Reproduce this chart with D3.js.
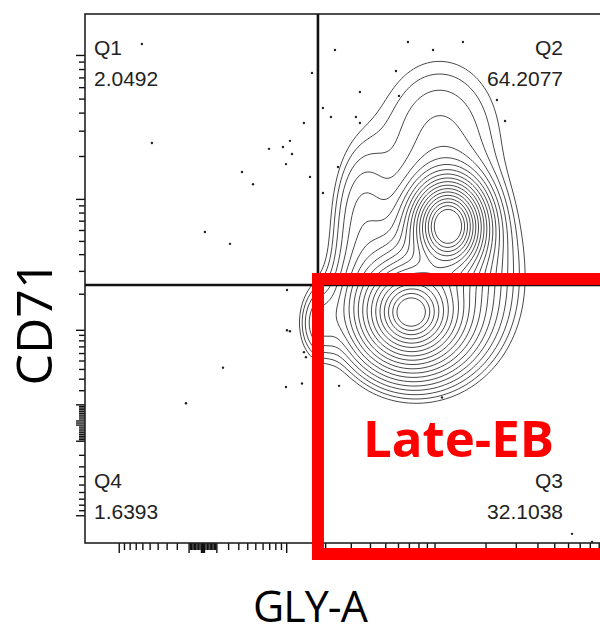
<!DOCTYPE html>
<html>
<head>
<meta charset="utf-8">
<script src="https://cdn.jsdelivr.net/npm/d3@7"></script>
<style>
  body { margin: 0; background: #fff; }
  text { font-family: "Liberation Sans", Arial, sans-serif; }
</style>
</head>
<body>
<svg id="chart" width="600" height="635"></svg>
<script>
// quadrant gate (fluorescence units) and the % of events per quadrant
const quadX = 1760
const quadY = 236
const quadNames = ['Q1', 'Q2', 'Q3', 'Q4']
const quadPct = [2.0492, 64.2077, 32.1038, 1.6393]

// populations: centre (GLY-A, CD71), spread in decades,
// relative weight and falloff exponent (1 = sharp core, 2 = smooth halo)
const clusterX = [11950, 7160, 10620, 3420, 12600, 1760]
const clusterY = [646, 143, 3160, 775, 307, 113]
const clusterSdX = [0.101, 0.122, 0.43, 0.196, 0.4, 0.145]
const clusterSdY = [0.151, 0.166, 0.6, 0.5, 0.64, 0.31]
const clusterW = [1.0, 1.0, 0.022, 0.022, 0.03, 0.02]
const clusterPow = [1.3, 1, 2, 2, 2, 2]

// single outlier events
const dotsX = [-614, -477, 1590, 1380, 1065, 928, 689, 1107, 986, 334, 464, 1537, 13, 213,
  2325, 6860, 9730, 14640, 5790, 3420, 6040, 1913, 2180, 3220, 3420, 25800, 2440, 1913,
  1006, 1006, 1380, 1430, 150, 986, 1333, -125, 1065, 2480, 11000, 62850, 81850, 23150]
const dotsY = [12000, 2480, 7580, 3420, 2570, 2330, 2260, 2080, 1770, 1560, 1280, 1440, 585, 480,
  10910, 12390, 10910, 12390, 7820, 5600, 5260, 4340, 3760, 3760, 3420, 3530, 1690, 1110,
  216, 100, 62, 55, 42, 23, 26, 11, 98, 24, 15, -143, -167, 4930]

const xDomain = [-1850, 154000]
const yDomain = [-170, 19290]

const gateLabel = 'Late-EB'
const xTitle = 'GLY-A'
const yTitle = 'CD71'

const pLeft = 85, pTop = 14, pRight = 640, pBottom = 543

const svg = d3.select('#chart')

const x = d3.scaleSymlog().constant(500).domain(xDomain).range([pLeft, pRight])
const y = d3.scaleSymlog().constant(30).domain(yDomain).range([pBottom, pTop])

svg.append('defs').append('clipPath').attr('id', 'plot')
  .append('rect').attr('x', pLeft).attr('y', pTop)
  .attr('width', pRight - pLeft).attr('height', pBottom - pTop)

// log-style ticks: 1..9 x 10^k on both sides of zero
function symTicks(dom) {
  let out = [{ v: 0, major: true }]
  for (let k = 0; k <= 5; k++) {
    for (let m = 1; m <= 9; m++) {
      const v = m * Math.pow(10, k)
      if (v <= dom[1]) out.push({ v: v, major: m === 1 })
      if (-v >= dom[0]) out.push({ v: -v, major: m === 1 })
    }
  }
  return out
}

svg.append('g').selectAll('line')
  .data(symTicks(yDomain))
  .enter().append('line')
  .attr('x1', pLeft)
  .attr('x2', d => d.major ? pLeft - 9 : pLeft - 6)
  .attr('y1', d => y(d.v)).attr('y2', d => y(d.v))
  .attr('stroke', '#111').attr('stroke-width', 1.4)

svg.append('g').selectAll('line')
  .data(symTicks(xDomain))
  .enter().append('line')
  .attr('y1', pBottom)
  .attr('y2', d => d.major ? pBottom + 10 : pBottom + 7)
  .attr('x1', d => x(d.v)).attr('x2', d => x(d.v))
  .attr('stroke', '#111').attr('stroke-width', 1.4)

// density surface from the populations, then contour lines
const step = 2
const gw = Math.ceil((pRight - pLeft) / step), gh = Math.ceil((pBottom - pTop) / step)
const comps = clusterX.map(function (cx, i) {
  const sx = (x(cx * Math.pow(10, clusterSdX[i] / 2)) - x(cx * Math.pow(10, -clusterSdX[i] / 2)))
  const sy = (y(clusterY[i] * Math.pow(10, -clusterSdY[i] / 2)) - y(clusterY[i] * Math.pow(10, clusterSdY[i] / 2)))
  return { px: x(cx), py: y(clusterY[i]), sx: sx, sy: sy, w: clusterW[i], p: clusterPow[i] }
})
const grid = new Float64Array(gw * gh)
let maxD = 0
for (let j = 0; j < gh; j++) {
  for (let i = 0; i < gw; i++) {
    const px = pLeft + (i + 0.5) * step, py = pTop + (j + 0.5) * step
    let d = 0
    comps.forEach(function (c) {
      const u = (px - c.px) / c.sx, v = (py - c.py) / c.sy
      d += c.w * Math.exp(-Math.pow(Math.sqrt(u * u + v * v), c.p))
    })
    grid[j * gw + i] = d
    if (d > maxD) maxD = d
  }
}
const nLevels = 19
const hiLevel = 0.5, loLevel = 0.012
const levels = d3.range(nLevels).map(i => maxD * hiLevel * Math.pow(loLevel / hiLevel, i / (nLevels - 1)))
const contours = d3.contours().size([gw, gh]).thresholds(levels)(grid)
const path = d3.geoPath(d3.geoIdentity().scale(step).translate([pLeft, pTop]))

svg.append('g').attr('clip-path', 'url(#plot)')
  .selectAll('path')
  .data(contours)
  .enter().append('path')
  .attr('d', path)
  .attr('fill', 'none')
  .attr('stroke', '#4a4a4a')
  .attr('stroke-width', 1)

// outlier events
svg.append('g').attr('clip-path', 'url(#plot)')
  .selectAll('circle')
  .data(dotsX.map((v, i) => [v, dotsY[i]]))
  .enter().append('circle')
  .attr('cx', d => x(d[0])).attr('cy', d => y(d[1]))
  .attr('r', 1.2)
  .attr('fill', '#222')

// frame
svg.append('rect')
  .attr('x', pLeft).attr('y', pTop)
  .attr('width', pRight - pLeft).attr('height', pBottom - pTop)
  .attr('fill', 'none').attr('stroke', '#222').attr('stroke-width', 1.6)

// quadrant lines
svg.append('line')
  .attr('x1', x(quadX)).attr('x2', x(quadX)).attr('y1', pTop).attr('y2', pBottom)
  .attr('stroke', '#111').attr('stroke-width', 2.6)
svg.append('line')
  .attr('x1', pLeft).attr('x2', pRight).attr('y1', y(quadY)).attr('y2', y(quadY))
  .attr('stroke', '#111').attr('stroke-width', 2.6)

// quadrant labels
const qLab = svg.append('g').attr('font-size', 21).attr('fill', '#222')
const corners = [
  { x: pLeft + 9, y: pTop + 41, anchor: 'start' },
  { x: 563, y: pTop + 41, anchor: 'end' },
  { x: 563, y: pBottom - 55, anchor: 'end' },
  { x: pLeft + 9, y: pBottom - 55, anchor: 'start' }
]
quadNames.forEach(function (q, i) {
  const c = corners[i]
  qLab.append('text').attr('x', c.x).attr('y', c.y).attr('text-anchor', c.anchor).text(q)
  qLab.append('text').attr('x', c.x).attr('y', c.y + 31).attr('text-anchor', c.anchor)
    .text(quadPct[i].toFixed(4))
})

// red gate drawn over Q3
const gx = x(quadX), gy = y(quadY) - 6
svg.append('rect')
  .attr('x', gx).attr('y', gy)
  .attr('width', 660 - gx).attr('height', pBottom + 11 - gy)
  .attr('fill', 'none').attr('stroke', '#ff0000').attr('stroke-width', 12)

svg.append('text')
  .attr('x', gx + 45).attr('y', 457)
  .attr('fill', '#ff0000')
  .style('font-family', '"Open Sans", sans-serif')
  .attr('font-weight', 700).attr('font-size', 51)
  .text(gateLabel)

// axis titles
svg.append('text')
  .attr('x', 310).attr('y', 622)
  .attr('text-anchor', 'middle')
  .style('font-family', '"Open Sans", sans-serif')
  .attr('font-size', 43).attr('letter-spacing', -1)
  .text(xTitle)

svg.append('text')
  .attr('transform', 'translate(52,323) rotate(-90)')
  .attr('text-anchor', 'middle')
  .style('font-family', '"Open Sans", sans-serif')
  .attr('font-size', 50)
  .text(yTitle)
</script>
</body>
</html>
